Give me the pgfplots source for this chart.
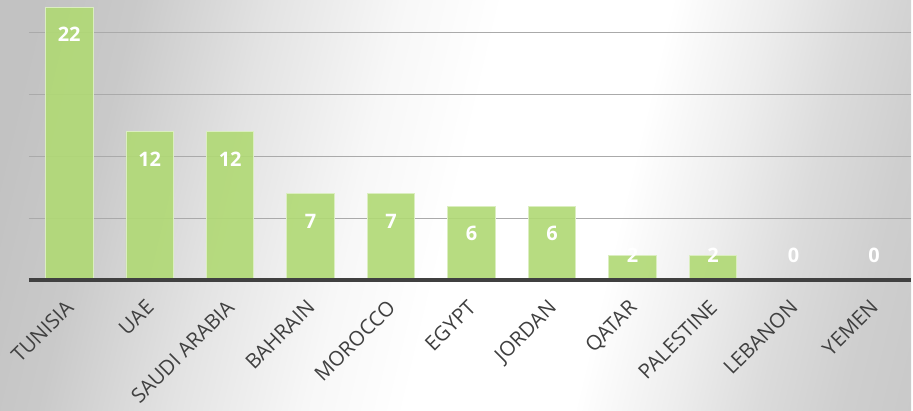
\documentclass[border=0pt]{standalone}
\usepackage{fontspec}
\setmainfont{Open Sans}
\usepackage{pgfplots}
\pgfplotsset{compat=1.18}
\definecolor{bargreen}{RGB}{176,217,116}
\definecolor{axisdark}{RGB}{64,64,64}
\definecolor{gridgray}{RGB}{170,170,170}
\definecolor{labelgray}{RGB}{64,64,64}
\pgfdeclarehorizontalshading{bgshade}{100bp}{color(0bp)=(black!25); color(22bp)=(black!24); color(28bp)=(black!21); color(36bp)=(black!11); color(44bp)=(black!3); color(50bp)=(white); color(60bp)=(white); color(66bp)=(black!7); color(71bp)=(black!14); color(76bp)=(black!19); color(82bp)=(black!22); color(100bp)=(black!23)}
\begin{document}
\begin{tikzpicture}[x=1pt,y=1pt]
\shade[shading=bgshade, shading angle=-13.5] (0,0) rectangle (913,411);
\begin{axis}[
  at={(29pt,130pt)}, anchor=south west,
  scale only axis, width=884pt, height=281pt,
  xmin=-0.5, xmax=10.46, ymin=0, ymax=22.59,
  axis line style={draw=none},
  ytick={5,10,15,20}, yticklabels={}, ymajorgrids,
  grid style={gridgray, line width=1.2pt},
  major tick length=0pt,
  xtick={0,1,2,3,4,5,6,7,8,9,10},
  xticklabels={TUNISIA,UAE,SAUDI ARABIA,BAHRAIN,MOROCCO,EGYPT,JORDAN,QATAR,PALESTINE,LEBANON,YEMEN},
  xticklabel style={xshift=-5pt, yshift=-15pt, rotate=45, anchor=north east, font=\fontsize{20.5}{20.5}\selectfont, text=labelgray, inner sep=2pt},
  clip=false,
]
\addplot[ybar, bar width=0.59, fill=bargreen, fill opacity=0.9, draw=bargreen!45!white, line width=0.8pt]
  coordinates {(0,22) (1,12) (2,12) (3,7) (4,7) (5,6) (6,6) (7,2) (8,2) (9,0) (10,0)};
\addplot[draw=none, mark=none, nodes near coords, point meta=explicit symbolic,
  nodes near coords style={anchor=center, text=white, font=\bfseries\fontsize{20}{20}\selectfont}]
  coordinates {(0,19.83)[22] (1,9.73)[12] (2,9.73)[12] (3,4.74)[7] (4,4.74)[7] (5,3.78)[6] (6,3.78)[6] (7,2.0)[2] (8,2.0)[2] (9,2.0)[0] (10,2.0)[0]};
\draw[axisdark, line width=4pt] (axis cs:-0.5,0) -- (axis cs:10.46,0);
\end{axis}
\end{tikzpicture}
\end{document}
